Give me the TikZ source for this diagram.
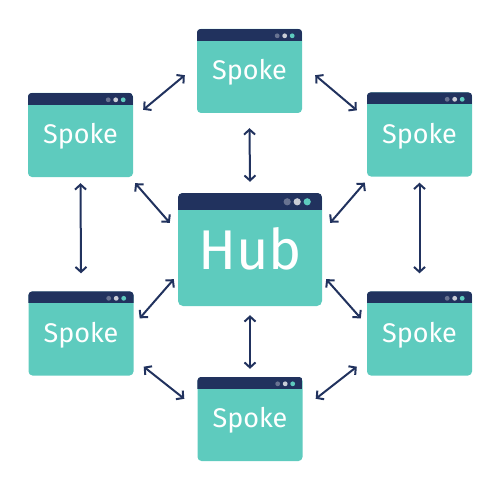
\documentclass[tikz,border=0pt]{standalone}
\usepackage{fontspec}
\setmainfont{Fira Sans}
\usetikzlibrary{arrows.meta}
\definecolor{teal1}{HTML}{5ECBBE}
\definecolor{navy}{HTML}{21325E}
\definecolor{dotA}{HTML}{687391}
\definecolor{dotB}{HTML}{C9CDD6}
\tikzset{
  spokebox/.style={rectangle, rounded corners=4pt, fill=teal1, minimum width=105pt, minimum height=84pt, inner sep=0pt},
  hubbox/.style={rectangle, rounded corners=5pt, fill=teal1, minimum width=144pt, minimum height=113pt, inner sep=0pt},
  spoketext/.style={anchor=base, text=white, font=\fontsize{27}{27}\selectfont, inner sep=0pt},
  hubtext/.style={anchor=base, text=white, font=\fontsize{56}{56}\selectfont, inner sep=0pt},
  link/.style={draw=navy, line width=2pt, {Straight Barb[length=5pt,width=11pt,line width=2pt]}-{Straight Barb[length=5pt,width=11pt,line width=2pt]}},
}
\newcommand\mkspoke[3]{%
  \node[spokebox] (#1) at (#2,#3) {};
  \begin{scope}
    \clip[rounded corners=4pt] (#1.south west) rectangle (#1.north east);
    \fill[navy] (#1.north west) rectangle ([yshift=-12pt]#1.north east);
  \end{scope}
  \fill[dotA] ([xshift=-25pt,yshift=-7pt]#1.north east) circle (2.4pt);
  \fill[dotB] ([xshift=-17.5pt,yshift=-7pt]#1.north east) circle (2.4pt);
  \fill[teal1] ([xshift=-10pt,yshift=-7pt]#1.north east) circle (2.4pt);
  \node[spoketext] (#1txt) at ([yshift=-51pt]#1.north) {Spoke};
}
\begin{document}
\begin{tikzpicture}[x=1pt,y=-1pt]
\useasboundingbox (0,0) rectangle (500,500);
\mkspoke{top}{249.5}{71}
\mkspoke{tl}{80.5}{135}
\mkspoke{tr}{419.5}{134.5}
\mkspoke{ll}{81}{333.5}
\mkspoke{lr}{419.5}{333.5}
\mkspoke{bot}{250}{419}
% hub
\node[hubbox] (hub) at (250,249.5) {};
\begin{scope}
  \clip[rounded corners=5pt] (hub.south west) rectangle (hub.north east);
  \fill[navy] (hub.north west) rectangle ([yshift=-17pt]hub.north east);
\end{scope}
\fill[dotA] ([xshift=-35pt,yshift=-9pt]hub.north east) circle (3.6pt);
\fill[dotB] ([xshift=-25pt,yshift=-9pt]hub.north east) circle (3.6pt);
\fill[teal1] ([xshift=-15pt,yshift=-9pt]hub.north east) circle (3.6pt);
\node[hubtext] (hubtxt) at ([yshift=-77pt]hub.north) {Hub};
% connectors
\draw[link] ([shift={(10pt,-17pt)}]tl.north east) -- ([shift={(-12pt,38pt)}]top.south west);
\draw[link] ([shift={(13pt,38pt)}]top.south east) -- ([shift={(-10pt,-18pt)}]tr.north west);
\draw[link] ([yshift=-15pt]top.south) -- ([yshift=11pt]hub.north);
\draw[link] ([yshift=-6pt]tl.south) -- ([yshift=18pt]ll.north);
\draw[link] ([yshift=-6pt]tr.south) -- ([yshift=18pt]lr.north);
\draw[link] ([shift={(2pt,-6pt)}]tl.south east) -- ([shift={(-8pt,-30pt)}]hub.north west);
\draw[link] ([shift={(8pt,-30pt)}]hub.north east) -- ([shift={(-2pt,-6pt)}]tr.south west);
\draw[link] ([shift={(6pt,-27pt)}]ll.north east) -- ([shift={(-4pt,27pt)}]hub.south west);
\draw[link] ([shift={(4pt,27pt)}]hub.south east) -- ([shift={(-6pt,-27pt)}]lr.north west);
\draw[link] ([shift={(10pt,9pt)}]ll.south east) -- ([shift={(-13pt,-22pt)}]bot.north west);
\draw[link] ([shift={(13pt,-22pt)}]bot.north east) -- ([shift={(-10pt,9pt)}]lr.south west);
\draw[link] ([yshift=-9pt]hub.south) -- ([yshift=8pt]bot.north);
\end{tikzpicture}
\end{document}
